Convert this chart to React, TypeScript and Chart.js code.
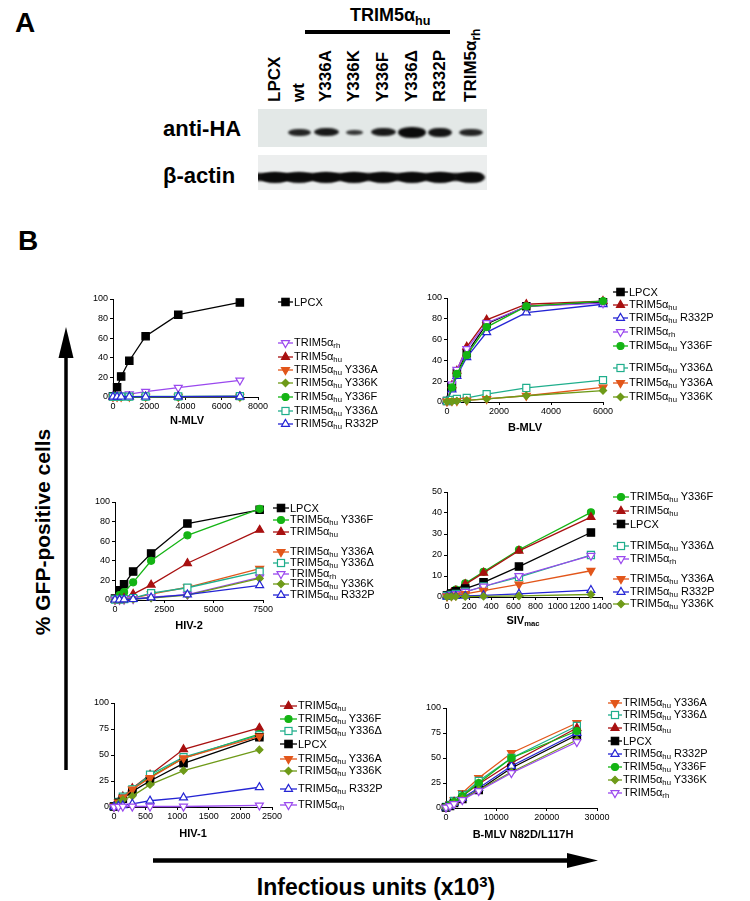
import React, { useEffect, useRef } from 'react';
import { Chart, registerables } from 'chart.js';
Chart.register(...registerables);

const FONT = "Arial, 'Liberation Sans', Helvetica, sans-serif";

// ---------------- DATA ----------------
// Panel A: western blot lanes and relative band strengths
const LANE_LABELS = ['LPCX', 'wt', 'Y336A', 'Y336K', 'Y336F', 'Y336Δ', 'R332P', 'TRIM5α'];
const HA_BAND = [0, 0.75, 0.85, 0.55, 0.85, 1, 0.9, 0.75];
const ACTIN_BAND = [1, 0.95, 1, 1, 1, 1, 1, 0.95];

// N-MLV
const NMLV_X = [0, 225, 450, 900, 1800, 3600, 7000];
const NMLV_LPCX = [0.7, 10, 21, 37, 62, 84, 96.5];
const NMLV_RH = [0.8, 1.2, 2, 3, 5.5, 9.5, 17];
const NMLV_HU = [0.3, 0.3, 0.3, 0.3, 0.3, 0.4, 0.5];
const NMLV_Y336A = [0.2, 0.2, 0.2, 0.3, 0.3, 0.3, 0.4];
const NMLV_Y336K = [0.1, 0.1, 0.2, 0.2, 0.2, 0.3, 0.3];
const NMLV_Y336F = [0.2, 0.2, 0.2, 0.2, 0.3, 0.3, 0.4];
const NMLV_Y336D = [0.3, 0.3, 0.4, 0.4, 0.5, 0.6, 0.8];
const NMLV_R332P = [0.2, 0.2, 0.3, 0.3, 0.3, 0.4, 0.5];

// B-MLV
const BMLV_X = [0, 190, 380, 760, 1525, 3050, 6000];
const BMLV_LPCX = [1, 14.5, 28, 47, 75, 92, 96];
const BMLV_HU = [1, 16, 30, 53, 79, 94, 97];
const BMLV_R332P = [1, 12, 25, 43, 67, 86, 94];
const BMLV_RH = [1, 17, 31, 51, 76, 92, 95];
const BMLV_Y336F = [1, 14, 27, 45, 72, 92, 97];
const BMLV_Y336D = [1, 2, 3, 4, 7.5, 13.5, 21];
const BMLV_Y336A = [0.5, 1, 1, 1.5, 3, 6, 14];
const BMLV_Y336K = [0.5, 0.5, 1, 1.5, 3, 6, 11];

// HIV-2
const HIV2_X = [0, 230, 460, 920, 1830, 3670, 7330];
const HIV2_LPCX = [1.5, 10, 16, 29, 47.5, 78, 92];
const HIV2_Y336F = [1, 5, 8, 18, 40, 66, 93];
const HIV2_HU = [0.5, 1, 2, 6, 15.5, 37.5, 71.5];
const HIV2_Y336A = [0.5, 0.5, 1, 2, 6, 13, 32];
const HIV2_Y336D = [0.5, 0.5, 1, 2, 7, 12.5, 29];
const HIV2_RH = [0.3, 0.3, 0.5, 1, 3, 5.5, 23];
const HIV2_Y336K = [0.3, 0.3, 0.5, 1, 2, 5, 22];
const HIV2_R332P = [0.3, 0.3, 0.5, 0.8, 2.5, 5.5, 15];

// SIVmac
const SIV_X = [0, 40, 80, 165, 330, 650, 1300];
const SIV_LPCX = [0.8, 1.6, 2.7, 4, 7, 14.5, 30.7];
const SIV_Y336F = [0.8, 2, 3.5, 6.5, 12, 22.5, 40.3];
const SIV_HU = [0.8, 2, 3, 6, 11.5, 22, 38];
const SIV_Y336D = [0.5, 1, 1.5, 2.5, 5, 9.5, 20];
const SIV_RH = [0.5, 1, 1.5, 2.5, 5, 10, 19.7];
const SIV_Y336A = [0.3, 0.5, 0.8, 1.5, 3, 6, 12.5];
const SIV_R332P = [0.2, 0.3, 0.4, 0.5, 0.8, 1.5, 3.3];
const SIV_Y336K = [0.1, 0.1, 0.2, 0.2, 0.3, 0.5, 1.2];

// HIV-1
const HIV1_X = [0, 70, 140, 290, 570, 1100, 2300];
const HIV1_HU = [0.5, 5, 10, 18, 31, 55.5, 76];
const HIV1_Y336F = [0.5, 4.5, 9, 17, 29, 47, 70];
const HIV1_Y336D = [0.5, 5, 10, 17, 31, 48, 69];
const HIV1_LPCX = [0.5, 4, 8, 15, 25, 42, 67];
const HIV1_Y336A = [0.5, 4.5, 9, 17, 28, 47, 68];
const HIV1_Y336K = [0.3, 3.5, 7, 10.5, 21.5, 35, 55];
const HIV1_R332P = [0.2, 1, 1.5, 3, 6, 9, 19];
const HIV1_RH = [0.1, 0.3, 0.5, 0.5, 0.5, 0.5, 1.5];

// B-MLV N82D/L117H
const N82D_X = [0, 800, 1600, 3250, 6500, 13000, 26000];
const N82D_Y336A = [1, 4, 8, 15, 30, 55, 85];
const N82D_Y336D = [1, 3, 7, 13, 27, 50, 82];
const N82D_HU = [1, 3, 6, 12, 24, 45, 80];
const N82D_LPCX = [0.5, 2, 5, 9, 18, 40, 73];
const N82D_R332P = [0.5, 2, 5, 10, 20, 42, 75];
const N82D_Y336F = [1, 3, 6, 12, 25, 50, 77];
const N82D_Y336K = [0.5, 2, 4, 9, 18, 36, 68];
const N82D_RH = [0.5, 2, 4, 8, 17, 35, 66];

// ---------------- STYLES ----------------
type Key = 'LPCX' | 'hu' | 'R332P' | 'rh' | 'Y336F' | 'Y336D' | 'Y336A' | 'Y336K';

const LABELS: Record<Key, [string, string, string]> = {
  LPCX: ['LPCX', '', ''],
  hu: ['TRIM5α', 'hu', ''],
  R332P: ['TRIM5α', 'hu', ' R332P'],
  rh: ['TRIM5α', 'rh', ''],
  Y336F: ['TRIM5α', 'hu', ' Y336F'],
  Y336D: ['TRIM5α', 'hu', ' Y336Δ'],
  Y336A: ['TRIM5α', 'hu', ' Y336A'],
  Y336K: ['TRIM5α', 'hu', ' Y336K'],
};

type St = { color: string; shape: string; rot: number; fill: boolean; r: number };
const STYLE: Record<Key, St> = {
  LPCX: { color: '#000000', shape: 'rect', rot: 0, fill: true, r: 5.2 },
  hu: { color: '#a81010', shape: 'triangle', rot: 0, fill: true, r: 4.6 },
  R332P: { color: '#2424d4', shape: 'triangle', rot: 0, fill: false, r: 4.6 },
  rh: { color: '#9a48ee', shape: 'triangle', rot: 180, fill: false, r: 4.6 },
  Y336F: { color: '#14b414', shape: 'circle', rot: 0, fill: true, r: 3.5 },
  Y336D: { color: '#1fae8c', shape: 'rect', rot: 0, fill: false, r: 5 },
  Y336A: { color: '#e2561a', shape: 'triangle', rot: 180, fill: true, r: 4.6 },
  Y336K: { color: '#6e9a18', shape: 'rectRot', rot: 0, fill: true, r: 3.6 },
};

type Spec = {
  x: number[];
  y: Partial<Record<Key, number[]>>;
  order: Key[];
  area: { left: number; right: number; top: number; bottom: number };
  xMax: number; xStep: number; yMax: number; yStep: number;
  title: string; titleSub?: string; titleX: number; titleY: number;
  legX: number; legLen: number; legYs: number[];
};

const PANELS: Spec[] = [
  {
    x: NMLV_X,
    y: { LPCX: NMLV_LPCX, rh: NMLV_RH, hu: NMLV_HU, Y336A: NMLV_Y336A, Y336K: NMLV_Y336K, Y336F: NMLV_Y336F, Y336D: NMLV_Y336D, R332P: NMLV_R332P },
    order: ['LPCX', 'rh', 'hu', 'Y336A', 'Y336K', 'Y336F', 'Y336D', 'R332P'],
    area: { left: 113, right: 258, top: 299, bottom: 397 },
    xMax: 8000, xStep: 2000, yMax: 100, yStep: 20,
    title: 'N-MLV', titleX: 187, titleY: 420,
    legX: 278, legLen: 15, legYs: [302, 343, 357, 370, 383, 397, 410.5, 424],
  },
  {
    x: BMLV_X,
    y: { LPCX: BMLV_LPCX, hu: BMLV_HU, R332P: BMLV_R332P, rh: BMLV_RH, Y336F: BMLV_Y336F, Y336D: BMLV_Y336D, Y336A: BMLV_Y336A, Y336K: BMLV_Y336K },
    order: ['LPCX', 'hu', 'R332P', 'rh', 'Y336F', 'Y336D', 'Y336A', 'Y336K'],
    area: { left: 447, right: 603, top: 298, bottom: 402 },
    xMax: 6000, xStep: 2000, yMax: 100, yStep: 20,
    title: 'B-MLV', titleX: 525, titleY: 427,
    legX: 613, legLen: 15, legYs: [292, 305, 318, 332, 346, 368, 383, 397],
  },
  {
    x: HIV2_X,
    y: { LPCX: HIV2_LPCX, Y336F: HIV2_Y336F, hu: HIV2_HU, Y336A: HIV2_Y336A, Y336D: HIV2_Y336D, rh: HIV2_RH, Y336K: HIV2_Y336K, R332P: HIV2_R332P },
    order: ['LPCX', 'Y336F', 'hu', 'Y336A', 'Y336D', 'rh', 'Y336K', 'R332P'],
    area: { left: 115, right: 263, top: 502, bottom: 600 },
    xMax: 7500, xStep: 2500, yMax: 100, yStep: 20,
    title: 'HIV-2', titleX: 189, titleY: 625,
    legX: 273, legLen: 16, legYs: [508, 520, 532, 552, 562.5, 573.5, 584, 595],
  },
  {
    x: SIV_X,
    y: { Y336F: SIV_Y336F, hu: SIV_HU, LPCX: SIV_LPCX, Y336D: SIV_Y336D, rh: SIV_RH, Y336A: SIV_Y336A, R332P: SIV_R332P, Y336K: SIV_Y336K },
    order: ['Y336F', 'hu', 'LPCX', 'Y336D', 'rh', 'Y336A', 'R332P', 'Y336K'],
    area: { left: 447, right: 602, top: 492, bottom: 597 },
    xMax: 1400, xStep: 200, yMax: 50, yStep: 10,
    title: 'SIV', titleSub: 'mac', titleX: 523, titleY: 620,
    legX: 613, legLen: 16, legYs: [497, 511, 523.5, 546, 558.5, 579, 592, 603.5],
  },
  {
    x: HIV1_X,
    y: { hu: HIV1_HU, Y336F: HIV1_Y336F, Y336D: HIV1_Y336D, LPCX: HIV1_LPCX, Y336A: HIV1_Y336A, Y336K: HIV1_Y336K, R332P: HIV1_R332P, rh: HIV1_RH },
    order: ['hu', 'Y336F', 'Y336D', 'LPCX', 'Y336A', 'Y336K', 'R332P', 'rh'],
    area: { left: 114, right: 272, top: 703, bottom: 807 },
    xMax: 2500, xStep: 500, yMax: 100, yStep: 25,
    title: 'HIV-1', titleX: 193, titleY: 833,
    legX: 280, legLen: 17, legYs: [706, 718.5, 731, 743.5, 758.5, 771, 788.5, 805],
  },
  {
    x: N82D_X,
    y: { Y336A: N82D_Y336A, Y336D: N82D_Y336D, hu: N82D_HU, LPCX: N82D_LPCX, R332P: N82D_R332P, Y336F: N82D_Y336F, Y336K: N82D_Y336K, rh: N82D_RH },
    order: ['Y336A', 'Y336D', 'hu', 'LPCX', 'R332P', 'Y336F', 'Y336K', 'rh'],
    area: { left: 446, right: 597, top: 708, bottom: 808 },
    xMax: 30000, xStep: 10000, yMax: 100, yStep: 25,
    title: 'B-MLV N82D/L117H', titleX: 523, titleY: 834,
    legX: 608, legLen: 14, legYs: [703, 715, 728, 741, 754, 767, 780, 793],
  },
];

const Y_W = 40;
const X_H = 20;
const PAD_T = 10;
const PAD_R = 20;

function Plot({ spec }: { spec: Spec }) {
  const ref = useRef<HTMLCanvasElement>(null);
  const w = spec.area.right - spec.area.left + Y_W + PAD_R;
  const h = spec.area.bottom - spec.area.top + PAD_T + X_H;
  useEffect(() => {
    if (!ref.current) return;
    const datasets = [...spec.order].reverse().map((k) => {
      const st = STYLE[k];
      const ys = spec.y[k] as number[];
      return {
        label: k,
        data: spec.x.map((x, i) => ({ x, y: ys[i] })),
        showLine: true,
        borderColor: st.color,
        backgroundColor: st.fill ? st.color : '#ffffff',
        pointBorderColor: st.color,
        pointBackgroundColor: st.fill ? st.color : '#ffffff',
        pointStyle: st.shape,
        pointRotation: st.rot,
        pointRadius: st.r,
        pointBorderWidth: 1.2,
        borderWidth: 1.3,
        tension: 0,
        clip: false,
      } as any;
    });
    const tickFont = { family: FONT, size: 9 };
    const chart = new Chart(ref.current, {
      type: 'scatter',
      data: { datasets },
      options: {
        animation: false,
        responsive: false,
        devicePixelRatio: 1,
        events: [],
        layout: { padding: { top: PAD_T, right: PAD_R, left: 0, bottom: 0 } },
        plugins: { legend: { display: false }, tooltip: { enabled: false } },
        scales: {
          x: {
            type: 'linear',
            min: 0,
            max: spec.xMax,
            afterFit: (s: any) => { s.height = X_H; },
            ticks: {
              stepSize: spec.xStep, font: tickFont, color: '#000', padding: 1,
              maxRotation: 0, autoSkip: false,
              callback: (v: any) => String(v),
            },
            grid: { drawOnChartArea: false, drawTicks: true, tickLength: 3, color: '#000', lineWidth: 1 },
            border: { color: '#000', width: 1 },
          },
          y: {
            type: 'linear',
            min: 0,
            max: spec.yMax,
            afterFit: (s: any) => { s.width = Y_W; },
            ticks: {
              stepSize: spec.yStep, font: tickFont, color: '#000', padding: 2,
              callback: (v: any) => String(v),
            },
            grid: { drawOnChartArea: false, drawTicks: true, tickLength: 3, color: '#000', lineWidth: 1 },
            border: { color: '#000', width: 1 },
          },
        },
      } as any,
    });
    return () => chart.destroy();
  }, [spec]);
  return (
    <canvas
      ref={ref}
      width={w}
      height={h}
      style={{ position: 'absolute', left: spec.area.left - Y_W, top: spec.area.top - PAD_T, width: w, height: h }}
    />
  );
}

const Sub = ({ t }: { t: string }) =>
  t ? <span style={{ fontSize: '0.7em', position: 'relative', top: '0.3em' }}>{t}</span> : null;

function MarkerSvg({ k, x, y, len }: { k: Key; x: number; y: number; len: number }) {
  const st = STYLE[k];
  const H = 14;
  const cy = H / 2;
  const cx = len / 2;
  const fill = st.fill ? st.color : '#ffffff';
  const r = st.r;
  let shape: React.ReactNode = null;
  if (st.shape === 'rect') {
    const s = r * Math.SQRT1_2;
    shape = <rect x={cx - s} y={cy - s} width={2 * s} height={2 * s} fill={fill} stroke={st.color} strokeWidth={1.2} />;
  } else if (st.shape === 'circle') {
    shape = <circle cx={cx} cy={cy} r={r} fill={fill} stroke={st.color} strokeWidth={1.2} />;
  } else if (st.shape === 'triangle') {
    const d = st.rot === 180 ? 1 : -1;
    const pts = [
      [cx, cy + d * r],
      [cx - 0.866 * r, cy - (d * r) / 2],
      [cx + 0.866 * r, cy - (d * r) / 2],
    ].map((p) => p.join(',')).join(' ');
    shape = <polygon points={pts} fill={fill} stroke={st.color} strokeWidth={1.2} />;
  } else if (st.shape === 'rectRot') {
    const pts = [[cx - r, cy], [cx, cy - r], [cx + r, cy], [cx, cy + r]].map((p) => p.join(',')).join(' ');
    shape = <polygon points={pts} fill={fill} stroke={st.color} strokeWidth={1.2} />;
  }
  return (
    <svg width={len} height={H} style={{ position: 'absolute', left: x, top: y - H / 2, overflow: 'visible' }}>
      <line x1={0} y1={cy} x2={len} y2={cy} stroke={st.color} strokeWidth={1.3} />
      {shape}
    </svg>
  );
}

function Legend({ spec }: { spec: Spec }) {
  return (
    <>
      {spec.order.map((k, i) => {
        const y = spec.legYs[i];
        const [a, b, c] = LABELS[k];
        return (
          <React.Fragment key={k}>
            <MarkerSvg k={k} x={spec.legX} y={y} len={spec.legLen} />
            <div
              style={{
                position: 'absolute', left: spec.legX + spec.legLen + 1, top: y,
                transform: 'translateY(-50%)', fontSize: 11, lineHeight: '11px',
                whiteSpace: 'nowrap', color: '#000',
              }}
            >
              {a}<Sub t={b} />{c}
            </div>
          </React.Fragment>
        );
      })}
    </>
  );
}

function Txt({ x, y, size, children, anchor = 'middle', bold = true, rotate = 0 }: any) {
  const tx = anchor === 'middle' ? '-50%' : anchor === 'end' ? '-100%' : '0';
  return (
    <div
      style={{
        position: 'absolute', left: x, top: y, fontSize: size, lineHeight: 1,
        fontWeight: bold ? 'bold' : 'normal', whiteSpace: 'nowrap', color: '#000',
        transform: `translate(${tx}, -50%)${rotate ? ` rotate(${rotate}deg)` : ''}`,
        transformOrigin: 'center',
      }}
    >
      {children}
    </div>
  );
}

const LANE_X = [275, 299, 326, 354, 383, 412, 440, 471];

function Blot() {
  const bandW = [0, 23, 25, 17, 25, 28, 24, 24];
  const bandH = [0, 7, 8, 5, 8, 11, 9, 7];
  return (
    <>
      {/* lane labels */}
      {LANE_LABELS.map((t, i) => (
        <div
          key={t}
          style={{
            position: 'absolute', left: LANE_X[i], top: 102, fontSize: 17, lineHeight: '18px',
            fontWeight: 'bold', whiteSpace: 'nowrap', transformOrigin: '0 0',
            transform: 'rotate(-90deg) translate(0, -50%)', color: '#000',
          }}
        >
          {t}
          {i === LANE_LABELS.length - 1 ? <Sub t="rh" /> : null}
        </div>
      ))}
      {/* header */}
      <div style={{ position: 'absolute', left: 350, top: 6, fontSize: 18, lineHeight: '18px', fontWeight: 'bold', whiteSpace: 'nowrap' }}>
        TRIM5α<Sub t="hu" />
      </div>
      <div style={{ position: 'absolute', left: 305, top: 30, width: 145, height: 4, background: '#000' }} />
      {/* anti-HA blot */}
      <div style={{ position: 'absolute', left: 258, top: 109, width: 229, height: 38, background: '#e3e8e7', overflow: 'hidden' }}>
        {HA_BAND.map((s, i) =>
          s > 0 ? (
            <div
              key={i}
              style={{
                position: 'absolute', left: LANE_X[i] - 258 - bandW[i] / 2, top: 23 - bandH[i] / 2,
                width: bandW[i], height: bandH[i], background: '#0b0b0b', borderRadius: '45% / 50%',
                filter: 'blur(1.1px)', opacity: 0.55 + 0.45 * s,
              }}
            />
          ) : null
        )}
      </div>
      {/* beta-actin blot */}
      <div style={{ position: 'absolute', left: 258, top: 155, width: 229, height: 35, background: '#eceeee', overflow: 'hidden' }}>
        <div style={{ position: 'absolute', left: -4, top: 18, width: 228, height: 8, background: '#111', borderRadius: 4, filter: 'blur(1.2px)' }} />
        {ACTIN_BAND.map((s, i) => (
          <div
            key={i}
            style={{
              position: 'absolute', left: LANE_X[i] - 258 - 14, top: 16.5, width: 28, height: 11,
              background: '#0a0a0a', borderRadius: '50%', filter: 'blur(1.2px)', opacity: s,
            }}
          />
        ))}
      </div>
      <Txt x={163} y={129} size={22} anchor="start">anti-HA</Txt>
      <Txt x={163} y={176} size={22} anchor="start">β-actin</Txt>
    </>
  );
}

export default function App() {
  return (
    <div
      style={{
        position: 'absolute', left: 0, top: 0, width: 750, height: 901, background: '#ffffff',
        overflow: 'hidden', fontFamily: FONT, color: '#000',
      }}
    >
      <Txt x={15} y={23} size={28} anchor="start">A</Txt>
      <Txt x={18} y={241} size={28} anchor="start">B</Txt>
      <Blot />
      {PANELS.map((p, i) => (
        <React.Fragment key={i}>
          <Plot spec={p} />
          <Legend spec={p} />
          <Txt x={p.titleX} y={p.titleY} size={11}>
            {p.title}
            {p.titleSub ? <Sub t={p.titleSub} /> : null}
          </Txt>
        </React.Fragment>
      ))}
      <Txt x={42} y={532} size={21} rotate={-90}>% GFP-positive cells</Txt>
      <Txt x={376} y={887} size={23}>
        Infectious units (x10<span style={{ fontSize: '0.65em', position: 'relative', top: '-0.55em' }}>3</span>)
      </Txt>
      <svg width={750} height={901} style={{ position: 'absolute', left: 0, top: 0, pointerEvents: 'none' }}>
        <line x1={66} y1={355} x2={66} y2={770} stroke="#000" strokeWidth={3.5} />
        <polygon points="66,327 58.5,358 73.5,358" fill="#000" />
        <line x1={153} y1={860.5} x2={570} y2={860.5} stroke="#000" strokeWidth={4.5} />
        <polygon points="598,860.5 567,853 567,868" fill="#000" />
      </svg>
    </div>
  );
}
